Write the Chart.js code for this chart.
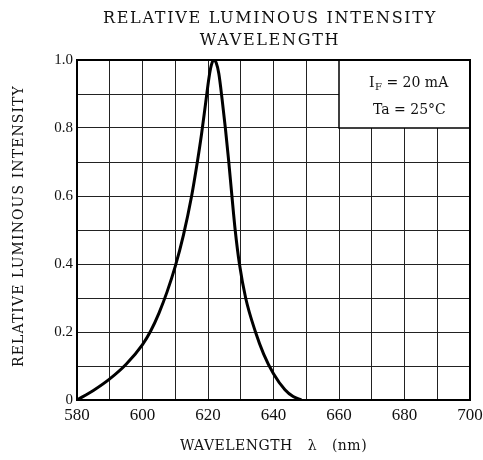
<!DOCTYPE html>
<html>
<head>
<meta charset="utf-8">
<script src="https://cdn.jsdelivr.net/npm/chart.js@4.4.1/dist/chart.umd.min.js"></script>
<style>
html,body{margin:0;padding:0;background:#fff;}
#wrap{width:483px;height:460px;position:relative;}
</style>
</head>
<body>
<div id="wrap"><canvas id="c" width="483" height="460"></canvas></div>
<script>
const titleLines = ["RELATIVE LUMINOUS INTENSITY", "WAVELENGTH"];
const xAxisTitle = "WAVELENGTH   \u03BB   (nm)";
const yAxisTitle = "RELATIVE LUMINOUS INTENSITY";
const wavelengths = [580,585,590,595,600,602.5,605,607.5,610,612.5,615,616.5,618,619.3,620.3,621,621.7,622.5,623.3,624.3,625.3,626.3,627.3,628.3,629.6,631.5,634.5,637,640,643.5,646,648.5];
const intensity   = [0,0.028,0.062,0.105,0.163,0.203,0.255,0.318,0.393,0.485,0.6,0.685,0.78,0.875,0.948,0.984,1.0,0.992,0.96,0.885,0.8,0.705,0.6,0.5,0.4,0.3,0.2,0.135,0.077,0.03,0.01,0];
const xTickLabels = ["580","600","620","640","660","680","700"];
const yTickLabels = ["0","0.2","0.4","0.6","0.8","1.0"];
const noteBox = [660, 700, 0.8, 1.0];
const noteLine2 = "Ta = 25\u00B0C";

const NUMFONT = "'Liberation Serif', 'Times New Roman', serif";
const TXTFONT = "'DejaVu Serif', 'Liberation Serif', serif";

const overlay = {
  id: 'overlay',
  afterDatasetsDraw(chart) {
    const ctx = chart.ctx, xs = chart.scales.x, ys = chart.scales.y;
    const x1 = xs.getPixelForValue(noteBox[0]), x2 = xs.getPixelForValue(noteBox[1]);
    const y1 = ys.getPixelForValue(noteBox[3]), y2 = ys.getPixelForValue(noteBox[2]);
    ctx.save();
    ctx.fillStyle = '#fff';
    ctx.fillRect(x1, y1, x2 - x1, y2 - y1);
    ctx.strokeStyle = '#000';
    ctx.lineWidth = 1.5;
    ctx.strokeRect(x1, y1, x2 - x1, y2 - y1);
    ctx.fillStyle = '#111';
    ctx.textBaseline = 'alphabetic';
    ctx.textAlign = 'left';
    const tx = x1 + 30;
    const by1 = y1 + 27, by2 = y1 + 54;
    ctx.font = "14px " + TXTFONT;
    ctx.fillText("I", tx, by1);
    let w = ctx.measureText("I").width;
    ctx.font = "10px " + TXTFONT;
    ctx.fillText("F", tx + w + 0.5, by1 + 3);
    let w2 = ctx.measureText("F").width;
    ctx.font = "14px " + TXTFONT;
    ctx.fillText(" = 20 mA", tx + w + w2 + 0.5, by1);
    ctx.fillText(noteLine2, tx + 4, by2);
    const a = chart.chartArea;
    ctx.lineWidth = 2;
    ctx.strokeRect(a.left, a.top, a.right - a.left, a.bottom - a.top);
    ctx.restore();
  },
  afterDraw(chart) {
    const ctx = chart.ctx, a = chart.chartArea;
    const hasLS = ('letterSpacing' in ctx);
    ctx.save();
    ctx.fillStyle = '#111';
    ctx.textAlign = 'center';
    ctx.textBaseline = 'alphabetic';
    ctx.font = "16px " + TXTFONT;
    if (hasLS) ctx.letterSpacing = '1.7px';
    ctx.fillText(titleLines[0], 270, 23);
    ctx.fillText(titleLines[1], 270, 45);
    ctx.font = "14px " + TXTFONT;
    if (hasLS) ctx.letterSpacing = '0.5px';
    ctx.fillText(xAxisTitle, (a.left + a.right) / 2, 450);
    if (hasLS) ctx.letterSpacing = '1.1px';
    ctx.translate(23, (a.top + a.bottom) / 2 - 4);
    ctx.rotate(-Math.PI / 2);
    ctx.fillText(yAxisTitle, 0, 0);
    ctx.restore();
  }
};

new Chart(document.getElementById('c'), {
  type: 'line',
  data: {
    datasets: [{
      data: wavelengths.map((w, i) => ({x: w, y: intensity[i]})),
      borderColor: '#000',
      borderWidth: 3,
      pointRadius: 0,
      fill: false,
      cubicInterpolationMode: 'monotone'
    }]
  },
  options: {
    responsive: false,
    animation: false,
    devicePixelRatio: 1,
    layout: { padding: { top: 60, right: 13, left: 0, bottom: 0 } },
    plugins: { legend: { display: false }, tooltip: { enabled: false }, title: { display: false } },
    scales: {
      x: {
        type: 'linear', min: 580, max: 700,
        afterFit(s) { s.height = 60; s.paddingLeft = 0; s.paddingRight = 0; },
        ticks: {
          stepSize: 10, autoSkip: false, maxRotation: 0, padding: 5,
          color: '#111', font: { family: NUMFONT, size: 17 },
          callback: v => { const s = String(v); return xTickLabels.includes(s) ? s : ''; }
        },
        grid: { color: '#222', lineWidth: 1, drawTicks: false },
        border: { display: false }
      },
      y: {
        type: 'linear', min: 0, max: 1,
        afterFit(s) { s.width = 77; s.paddingTop = 0; s.paddingBottom = 0; },
        ticks: {
          stepSize: 0.1, autoSkip: false, padding: 4,
          color: '#111', font: { family: NUMFONT, size: 15 },
          callback: v => {
            const r = Math.round(v * 10);
            if (r % 2 !== 0) return '';
            const s = r === 0 ? '0' : (r === 10 ? '1.0' : (r / 10).toFixed(1));
            return yTickLabels.includes(s) ? s : '';
          }
        },
        grid: { color: '#222', lineWidth: 1, drawTicks: false },
        border: { display: false }
      }
    }
  },
  plugins: [overlay]
});
</script>
</body>
</html>
